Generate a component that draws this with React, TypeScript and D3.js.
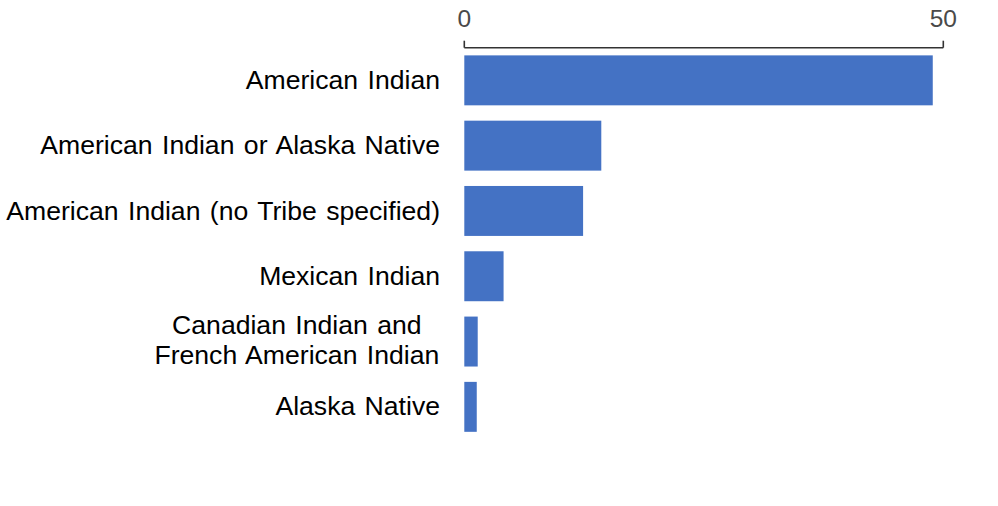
import React from "react";
import * as d3 from "d3";

const categories: string[][] = [
  ["American Indian"],
  ["American Indian or Alaska Native"],
  ["American Indian (no Tribe specified)"],
  ["Mexican Indian"],
  ["Canadian Indian and", "French American Indian"],
  ["Alaska Native"],
];
const values: number[] = [48.9, 14.3, 12.4, 4.1, 1.4, 1.3];
const tickValues: number[] = [0, 50];

const W = 998;
const H = 506;
const FONT = "'Liberation Sans', Arial, Helvetica, sans-serif";
const LABEL_SIZE = 26.6;
const WORD_SPACING = 2.0;

function measure(text: string, size: number): number {
  const c = document.createElement("canvas");
  const ctx = c.getContext("2d");
  if (!ctx) return text.length * size * 0.5;
  ctx.font = `${size}px ${FONT}`;
  const spaces = (text.match(/ /g) || []).length;
  return ctx.measureText(text).width + spaces * WORD_SPACING;
}

export default function App() {
  const x = d3.scaleLinear().domain([0, 50]).range([464.3, 943.3]);
  const y = d3
    .scaleBand<number>()
    .domain(d3.range(categories.length))
    .range([47.7, 47.7 + 6 * 65.3])
    .paddingInner(0.235)
    .paddingOuter(0.1175);
  const axisY = 47.7;
  const labelRight = 440;
  const lineH = 30;

  return (
    <svg
      width={W}
      height={H}
      style={{ position: "absolute", left: 0, top: 0, background: "#fff" }}
      fontFamily={FONT}
    >
      <rect width={W} height={H} fill="#fff" />
      {/* axis */}
      <line x1={x(0)} x2={x(50)} y1={axisY} y2={axisY} stroke="#333" strokeWidth={1.6} />
      {tickValues.map((t) => (
        <g key={t}>
          <line x1={x(t)} x2={x(t)} y1={axisY - 7} y2={axisY} stroke="#333" strokeWidth={1.6} />
          <text x={x(t)} y={26.5} textAnchor="middle" fontSize={24.5} fill="#4a4a4a">
            {t}
          </text>
        </g>
      ))}
      {/* bars */}
      {values.map((v, i) => (
        <rect
          key={i}
          x={x(0)}
          y={y(i)!}
          width={x(v) - x(0)}
          height={y.bandwidth()}
          fill="#4472C4"
        />
      ))}
      {/* labels */}
      {categories.map((lines, i) => {
        const cy = y(i)! + y.bandwidth() / 2;
        const n = lines.length;
        if (n === 1) {
          return (
            <text
              key={i}
              x={labelRight}
              y={cy + 8.6}
              textAnchor="end"
              fontSize={LABEL_SIZE}
              wordSpacing={WORD_SPACING}
              fill="#000"
            >
              {lines[0]}
            </text>
          );
        }
        const maxW = Math.max(...lines.map((l) => measure(l, LABEL_SIZE)));
        const cx = labelRight - maxW / 2;
        const start = cy + 8.6 - ((n - 1) * lineH) / 2 - 1;
        return (
          <text key={i} textAnchor="middle" fontSize={LABEL_SIZE} wordSpacing={WORD_SPACING} fill="#000">
            {lines.map((l, j) => (
              <tspan key={j} x={cx} y={start + j * lineH}>
                {l}
              </tspan>
            ))}
          </text>
        );
      })}
    </svg>
  );
}
